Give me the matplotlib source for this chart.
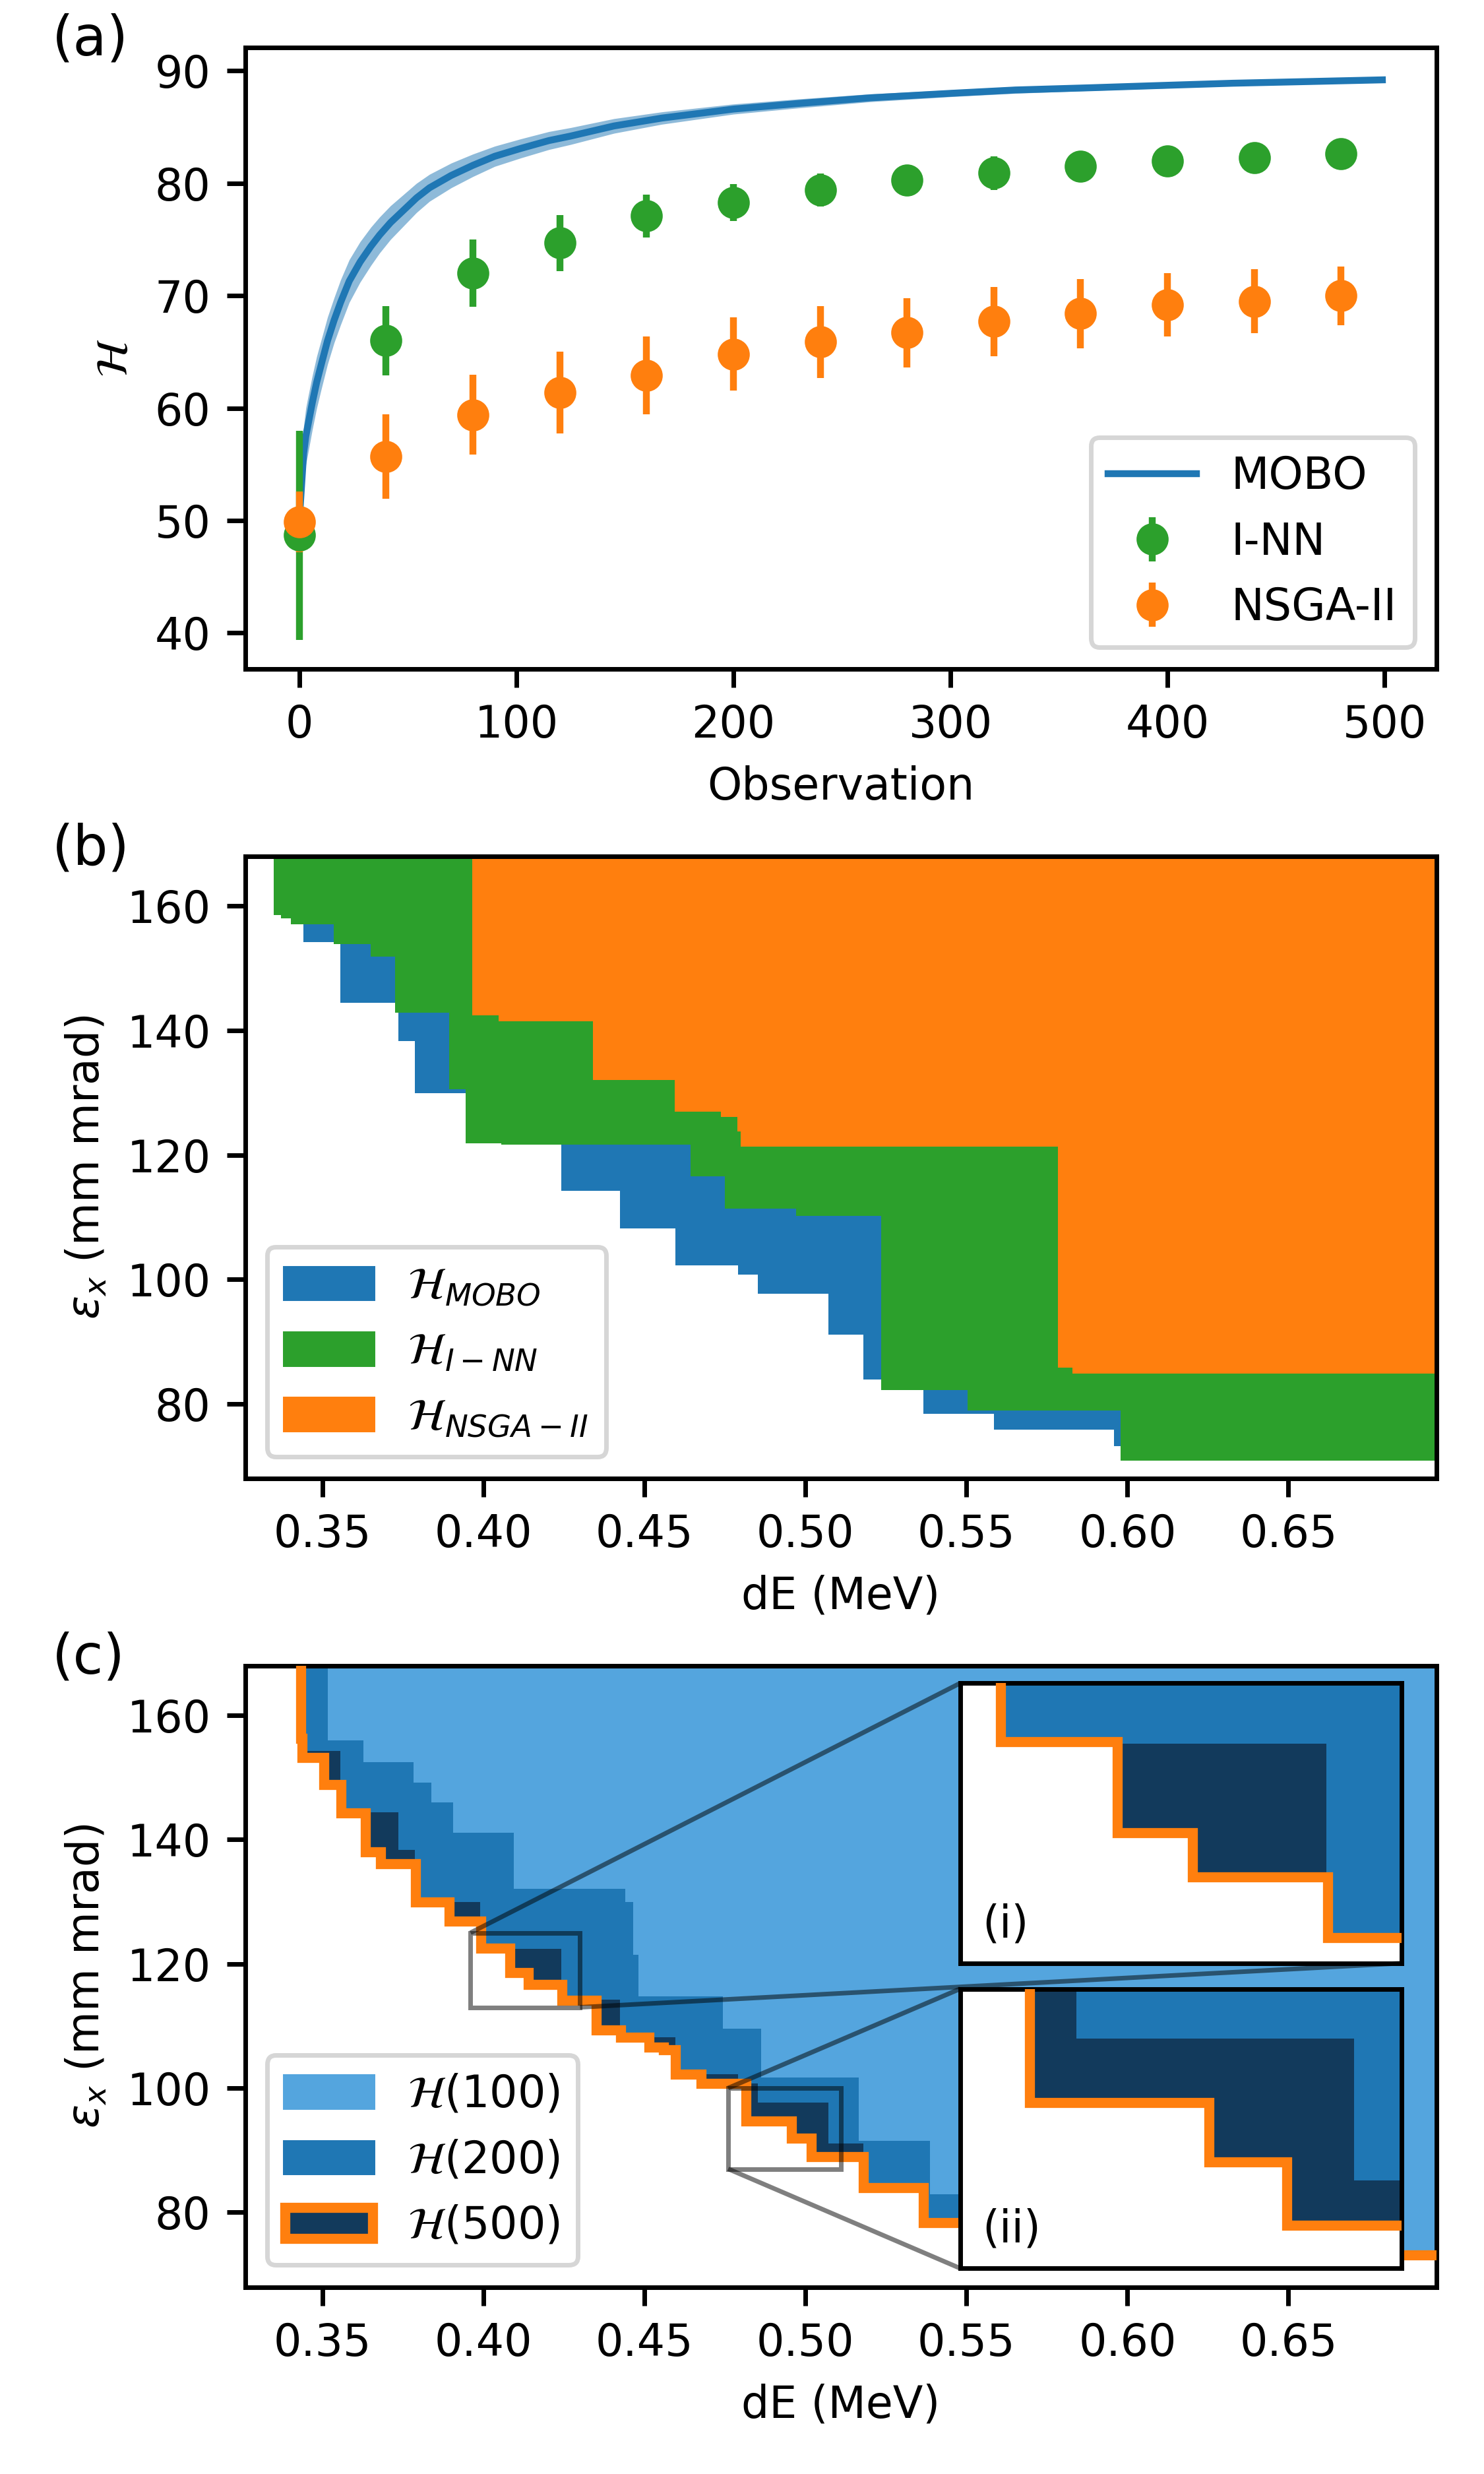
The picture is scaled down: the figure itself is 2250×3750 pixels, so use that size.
import numpy as np
import matplotlib
matplotlib.use("Agg")
import matplotlib.pyplot as plt
from matplotlib.patches import Patch
from mpl_toolkits.axes_grid1.inset_locator import mark_inset

plt.rcParams.update({
    "font.size": 9.6,
    "axes.linewidth": 1.0,
    "xtick.major.size": 4.0,
    "ytick.major.size": 4.0,
    "xtick.major.width": 1.0,
    "ytick.major.width": 1.0,
})

# ---- (a) hypervolume against number of observations ----
mobo_obs = [0, 1, 2, 3, 4, 6, 8, 10, 13, 16, 19, 23, 28, 33, 37, 42, 48, 54, 60,
            70, 80, 90, 102, 115, 125, 145, 167, 200, 230, 263, 300, 330, 365,
            397, 430, 465, 499]
mobo_hv = [50.0, 53.0, 56.0, 57.5, 58.5, 60.5, 62.3, 63.8, 66.0, 67.8, 69.4, 71.3,
           73.0, 74.4, 75.4, 76.5, 77.6, 78.7, 79.6, 80.7, 81.6, 82.4, 83.1, 83.8,
           84.2, 85.1, 85.8, 86.6, 87.1, 87.6, 88.0, 88.3, 88.5, 88.7, 88.9, 89.05,
           89.2]
mobo_band = [0.5, 1.8, 2.4, 2.5, 2.5, 2.4, 2.3, 2.2, 2.1, 2.0, 2.0, 1.9, 1.8, 1.7,
             1.6, 1.5, 1.4, 1.3, 1.2, 1.1, 1.0, 0.9, 0.85, 0.8, 0.75, 0.65, 0.55,
             0.45, 0.4, 0.35, 0.3, 0.3, 0.25, 0.25, 0.2, 0.2, 0.2]

batch_obs = [0, 40, 80, 120, 160, 200, 240, 280, 320, 360, 400, 440, 480]
inn_hv = [48.7, 66.0, 72.0, 74.7, 77.1, 78.3, 79.4, 80.3, 80.9, 81.5, 82.0, 82.3, 82.65]
inn_err = [9.3, 3.1, 3.0, 2.5, 1.9, 1.65, 1.45, 1.35, 1.5, 1.3, 1.3, 1.25, 1.0]
nsga_hv = [49.9, 55.7, 59.4, 61.4, 62.9, 64.8, 65.9, 66.7, 67.7, 68.4, 69.2, 69.5, 70.0]
nsga_err = [2.7, 3.75, 3.55, 3.65, 3.45, 3.25, 3.2, 3.1, 3.1, 3.1, 2.8, 2.85, 2.6]

# ---- (b) / (c) Pareto fronts: dE (MeV) vs emittance (mm mrad) ----
# MOBO front, identical to H(200) in panel (c)
mobo_dE = [0.3440, 0.3556, 0.3736, 0.3787, 0.3990, 0.4242, 0.4424, 0.4596, 0.4791,
           0.4852, 0.5072, 0.5180, 0.5366, 0.5585, 0.5958]
mobo_eps = [154.2, 144.4, 138.3, 129.9, 122.4, 114.2, 108.2, 102.2, 100.8, 97.7,
            91.1, 83.9, 78.4, 75.8, 73.2]

inn_dE = [0.3348, 0.3372, 0.3402, 0.3536, 0.3650, 0.3726, 0.3894, 0.3945, 0.4056,
          0.4643, 0.4750, 0.4972, 0.5235, 0.5503, 0.5979]
inn_eps = [158.5, 158.0, 157.1, 153.85, 151.9, 142.9, 130.6, 121.9, 121.6, 116.6,
           111.4, 110.15, 82.2, 78.9, 70.9]

nsga_dE = [0.3966, 0.4047, 0.4340, 0.4594, 0.4738, 0.4789, 0.4799, 0.5784, 0.5829]
nsga_eps = [142.4, 141.5, 132.05, 126.9, 126.1, 123.8, 121.35, 85.8, 84.9]

h100_dE = [0.3517, 0.3628, 0.3782, 0.3839, 0.3906, 0.4094, 0.4441, 0.4465, 0.4481,
           0.4744, 0.4862, 0.5166, 0.5387, 0.6100]
h100_eps = [156.0, 152.4, 149.2, 146.0, 141.1, 132.1, 129.95, 121.4, 114.8, 109.6,
            101.7, 91.5, 82.9, 73.2]

h500_dE = [0.3432, 0.3436, 0.3504, 0.3557, 0.3634, 0.3681, 0.3789, 0.3893, 0.3991,
           0.4081, 0.4139, 0.4243, 0.4350, 0.4426, 0.4515, 0.4560, 0.4597, 0.4676,
           0.4815, 0.4957, 0.5019, 0.5180, 0.5367, 0.5585, 0.5958]
h500_eps = [156.3, 153.2, 148.8, 144.3, 138.0, 136.1, 129.9, 126.9, 122.5, 118.6,
            116.7, 114.1, 109.4, 108.2, 106.6, 106.2, 102.2, 100.7, 94.7, 91.95,
            89.0, 83.95, 78.3, 75.7, 73.15]

dE_ticks = [0.35, 0.40, 0.45, 0.50, 0.55, 0.60, 0.65]
eps_ticks = [80, 100, 120, 140, 160]

X_REF, Y_REF = 0.75, 175.0  # reference point, outside the visible range

C_LIGHT = "#54a5de"
C_MID = "tab:blue"
C_DARK = "#123a5c"


def hv_region(ax, dE, eps, **kw):
    """Fill the region dominated by a front, up to the reference point."""
    x = np.append(dE, X_REF)
    y = np.append(eps, eps[-1])
    ax.fill_between(x, y, Y_REF, step="post", lw=0, **kw)


def front_line(ax, dE, eps, **kw):
    x = np.concatenate([[dE[0]], dE, [X_REF]])
    y = np.concatenate([[Y_REF], eps, [eps[-1]]])
    ax.plot(x, y, drawstyle="steps-post", solid_joinstyle="miter", **kw)


def draw_c_content(ax):
    hv_region(ax, h500_dE, h500_eps, color=C_DARK)
    hv_region(ax, mobo_dE, mobo_eps, color=C_MID)
    hv_region(ax, h100_dE, h100_eps, color=C_LIGHT)
    front_line(ax, h500_dE, h500_eps, color="tab:orange", lw=2.2, zorder=3)


fig = plt.figure(figsize=(4.5, 7.5))
left, width = 0.1652, 0.8028
ax_a = fig.add_axes([left, 0.7296, width, 0.2513])
ax_b = fig.add_axes([left, 0.4024, width, 0.2515])
ax_c = fig.add_axes([left, 0.0756, width, 0.2512])

# (a)
lo = np.array(mobo_hv) - np.array(mobo_band)
hi = np.array(mobo_hv) + np.array(mobo_band)
ax_a.fill_between(mobo_obs, lo, hi, color="tab:blue", alpha=0.5, lw=0)
ax_a.plot(mobo_obs, mobo_hv, color="tab:blue", lw=1.5, label="MOBO")
ax_a.errorbar(batch_obs, inn_hv, yerr=inn_err, fmt="o", color="tab:green",
              ms=6, elinewidth=1.5, label="I-NN")
ax_a.errorbar(batch_obs, nsga_hv, yerr=nsga_err, fmt="o", color="tab:orange",
              ms=6, elinewidth=1.5, label="NSGA-II")
ax_a.set_xlim(-24.95, 523.95)
ax_a.set_ylim(36.8, 92.1)
ax_a.set_xticks([0, 100, 200, 300, 400, 500])
ax_a.set_yticks([40, 50, 60, 70, 80, 90])
ax_a.set_xlabel("Observation")
ax_a.set_ylabel(r"$\mathcal{H}$")
ax_a.legend(loc="lower right")

# (b)
hv_region(ax_b, mobo_dE, mobo_eps, color="tab:blue")
hv_region(ax_b, inn_dE, inn_eps, color="tab:green")
hv_region(ax_b, nsga_dE, nsga_eps, color="tab:orange")
ax_b.legend(handles=[
    Patch(color="tab:blue", label=r"$\mathcal{H}_{MOBO}$"),
    Patch(color="tab:green", label=r"$\mathcal{H}_{I-NN}$"),
    Patch(color="tab:orange", label=r"$\mathcal{H}_{NSGA-II}$"),
], loc="lower left")

# (c)
draw_c_content(ax_c)
ax_c.legend(handles=[
    Patch(color=C_LIGHT, label=r"$\mathcal{H}(100)$"),
    Patch(color=C_MID, label=r"$\mathcal{H}(200)$"),
    Patch(facecolor=C_DARK, edgecolor="tab:orange", lw=2.2, label=r"$\mathcal{H}(500)$"),
], loc="lower left")

for ax in (ax_b, ax_c):
    ax.set_xlim(0.326, 0.696)
    ax.set_ylim(68, 168)
    ax.set_xticks(dE_ticks)
    ax.set_yticks(eps_ticks)
    ax.set_xlabel("dE (MeV)")
    ax.set_ylabel(r"$\varepsilon_x$ (mm mrad)")

for ax, tag in zip((ax_a, ax_b, ax_c), ("(a)", "(b)", "(c)")):
    ax.text(-0.162, 1.055, tag, transform=ax.transAxes, ha="left", va="top",
            fontsize=12)

# zoomed insets in (c)
insets = [
    ([0.6470, 0.20648, 0.2976, 0.11317], (0.396, 0.430), (113, 125), "(i)", 4),
    ([0.6470, 0.08315, 0.2976, 0.11296], (0.476, 0.511), (87, 100), "(ii)", 3),
]
for rect, xl, yl, tag, loc2 in insets:
    axins = fig.add_axes(rect)
    draw_c_content(axins)
    axins.set_xlim(*xl)
    axins.set_ylim(*yl)
    axins.set_xticks([])
    axins.set_yticks([])
    axins.text(0.05, 0.06, tag, transform=axins.transAxes, ha="left", va="bottom")
    patches = mark_inset(ax_c, axins, loc1=2, loc2=loc2, ec="k", alpha=0.5, lw=1.0)
    for p in patches:
        p.set_zorder(5)

fig.savefig("out.png", dpi=500)
